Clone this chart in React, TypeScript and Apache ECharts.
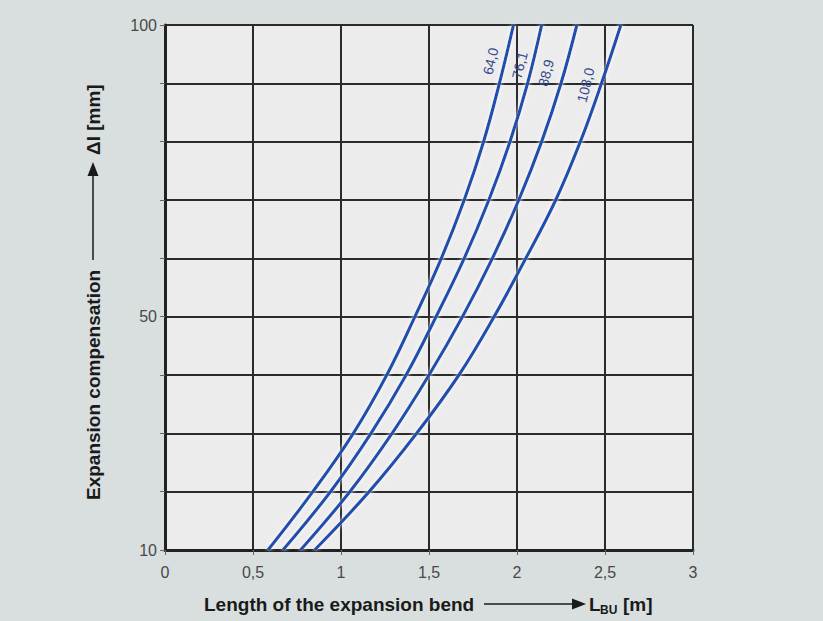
import React, { useEffect, useRef } from "react";
import * as echarts from "echarts";

// Expansion compensation ΔI [mm] levels (y)
const deltaLevels = [10, 20, 30, 40, 50, 60, 70, 80, 90, 100];
// Length of expansion bend L_BU [m] for each pipe diameter, at each ΔI level
const len64_0 = [0.585, 0.84, 1.07, 1.26, 1.42, 1.57, 1.7, 1.81, 1.9, 1.98];
const len76_1 = [0.67, 0.94, 1.17, 1.37, 1.54, 1.7, 1.84, 1.96, 2.06, 2.14];
const len88_9 = [0.77, 1.05, 1.29, 1.5, 1.69, 1.86, 2.01, 2.14, 2.25, 2.34];
const len108_0 = [0.85, 1.16, 1.43, 1.67, 1.87, 2.05, 2.22, 2.36, 2.48, 2.59];

const seriesNames = ["64,0", "76,1", "88,9", "108,0"];
const seriesLengths = [len64_0, len76_1, len88_9, len108_0];
// label anchor points in data units [L, ΔI]
const labelCoords = [
  [1.85, 93.8],
  [2.015, 93.1],
  [2.165, 91.8],
  [2.39, 89.7],
];

const yLabelTicks = [10, 50, 100];

export default function App() {
  const ref = useRef<HTMLDivElement>(null);
  useEffect(() => {
    if (!ref.current) return;
    const chart = echarts.init(ref.current, null, { renderer: "svg" });
    const lineColor = "#1e4fae";
    const titleFont = "Liberation Sans";
    const series = seriesNames.map((name, i) => ({
      name,
      type: "line",
      data: deltaLevels.map((d, k) => [seriesLengths[i][k], d]),
      smooth: 0.4,
      showSymbol: false,
      symbol: "none",
      lineStyle: {
        color: lineColor,
        width: 3.2,
        shadowColor: "rgba(255,255,255,0.95)",
        shadowBlur: 4,
      },
      markPoint: {
        symbol: "circle",
        symbolSize: 0,
        data: [
          {
            coord: labelCoords[i],
            label: {
              show: true,
              formatter: name,
              position: "inside",
              rotate: 76,
              color: "#34488a",
              fontSize: 14,
              fontFamily: '"Liberation Sans Narrow", "Liberation Sans", sans-serif',
            },
          },
        ],
      },
      z: 5,
    }));
    chart.setOption({
      animation: false,
      backgroundColor: "#d9dfde",
      grid: {
        left: 165,
        top: 25,
        right: 130,
        bottom: 71,
        show: true,
        backgroundColor: "#ececec",
        borderWidth: 0,
      },
      xAxis: {
        type: "value",
        min: 0,
        max: 3,
        interval: 0.5,
        axisLine: { show: true, onZero: false, lineStyle: { color: "#222", width: 3 } },
        axisTick: { show: true, length: 5, lineStyle: { color: "#666", width: 1 } },
        axisLabel: {
          margin: 14,
          color: "#484848",
          fontSize: 16,
          fontFamily: titleFont,
          formatter: (v: number) => String(v).replace(".", ","),
        },
        splitLine: { show: true, lineStyle: { color: "#2a2a2a", width: 2 } },
      },
      yAxis: {
        type: "value",
        min: 10,
        max: 100,
        interval: 10,
        axisLine: { show: true, onZero: false, lineStyle: { color: "#222", width: 3 } },
        axisTick: { show: true, length: 5, lineStyle: { color: "#666", width: 1 } },
        axisLabel: {
          margin: 8,
          color: "#484848",
          fontSize: 16,
          fontFamily: titleFont,
          formatter: (v: number) => (yLabelTicks.includes(v) ? String(v) : ""),
        },
        splitLine: { show: true, lineStyle: { color: "#2a2a2a", width: 2 } },
      },
      graphic: [
        // x-axis title
        {
          type: "group",
          children: [
            {
              type: "text",
              x: 204,
              y: 604,
              style: {
                text: "Length of the expansion bend",
                font: `bold 19px "${titleFont}"`,
                fill: "#1a1a1a",
                verticalAlign: "middle",
              },
            },
            {
              type: "line",
              shape: { x1: 484, y1: 604, x2: 574, y2: 604 },
              style: { stroke: "#1a1a1a", lineWidth: 1.5 },
            },
            {
              type: "polygon",
              shape: { points: [[572, 598.5], [586, 604], [572, 609.5]] },
              style: { fill: "#1a1a1a" },
            },
            {
              type: "text",
              x: 589,
              y: 604,
              style: {
                text: "L",
                font: `bold 19px "${titleFont}"`,
                fill: "#1a1a1a",
                verticalAlign: "middle",
              },
            },
            {
              type: "text",
              x: 600,
              y: 610,
              style: {
                text: "BU",
                font: `bold 12px "${titleFont}"`,
                fill: "#1a1a1a",
                verticalAlign: "middle",
              },
            },
            {
              type: "text",
              x: 623,
              y: 604,
              style: {
                text: "[m]",
                font: `bold 19px "${titleFont}"`,
                fill: "#1a1a1a",
                verticalAlign: "middle",
              },
            },
          ],
        },
        // y-axis title (rotated)
        {
          type: "group",
          x: 93,
          y: 500,
          rotation: Math.PI / 2,
          children: [
            {
              type: "text",
              x: 0,
              y: 0,
              style: {
                text: "Expansion compensation",
                font: `bold 19px "${titleFont}"`,
                fill: "#1a1a1a",
                verticalAlign: "middle",
              },
            },
            {
              type: "line",
              shape: { x1: 240, y1: 0, x2: 326, y2: 0 },
              style: { stroke: "#1a1a1a", lineWidth: 1.5 },
            },
            {
              type: "polygon",
              shape: { points: [[324, -5.5], [338, 0], [324, 5.5]] },
              style: { fill: "#1a1a1a" },
            },
            {
              type: "text",
              x: 345,
              y: 0,
              style: {
                text: "ΔI [mm]",
                font: `bold 19px "${titleFont}"`,
                fill: "#1a1a1a",
                verticalAlign: "middle",
              },
            },
          ],
        },
      ],
      series,
    });
    return () => chart.dispose();
  }, []);
  return (
    <div
      ref={ref}
      style={{ position: "absolute", left: 0, top: 0, width: 823, height: 621 }}
    />
  );
}
